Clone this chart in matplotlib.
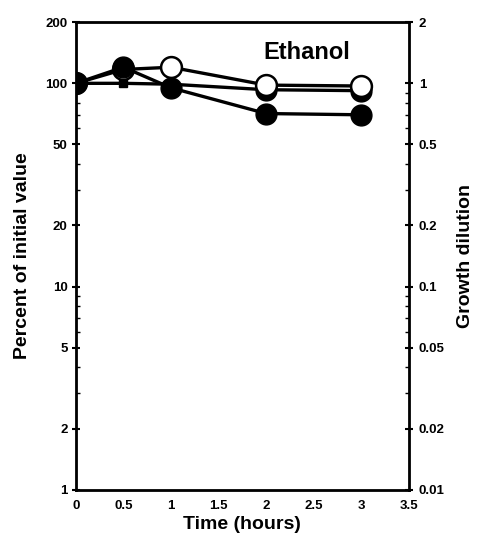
import matplotlib
matplotlib.use("Agg")
import matplotlib.pyplot as plt
from matplotlib.ticker import FixedLocator, NullFormatter, LogLocator

plt.rcParams['font.family'] = ['Liberation Sans', 'DejaVu Sans']
plt.rcParams['font.weight'] = 'bold'

# data
hours = [0, 0.5, 1, 2, 3]
open_pct = [100, 117, 120, 98, 97]
filled_pct = [100, 120, 95, 71, 70]
flat_pct = [100, 100, 99, 93, 92]

left_ticks = [1, 2, 5, 10, 20, 50, 100, 200]
left_labels = ['1', '2', '5', '10', '20', '50', '100', '200']
right_ticks = [0.01, 0.02, 0.05, 0.1, 0.2, 0.5, 1, 2]
right_labels = ['0.01', '0.02', '0.05', '0.1', '0.2', '0.5', '1', '2']
x_ticks = [0, 0.5, 1, 1.5, 2, 2.5, 3, 3.5]
x_labels = ['0', '0.5', '1', '1.5', '2', '2.5', '3', '3.5']

fig = plt.figure(figsize=(4.8, 5.4), dpi=100)
ax = fig.add_axes([0.158, 0.093, 0.694, 0.866])

# flat series: small square at 0.5, big filled circles at 2 and 3
ax.plot(hours, flat_pct, '-', color='black', lw=2.4, zorder=1)
ax.plot(hours[1:2], flat_pct[1:2], 's', color='black', ms=6, zorder=1)
ax.plot(hours[3:], flat_pct[3:], 'o', color='black', ms=15, zorder=1)
ax.plot(hours, open_pct, '-', color='black', lw=2.4, marker='o', ms=15,
        mfc='white', mec='black', mew=1.8, zorder=2)
ax.plot(hours, filled_pct, '-', color='black', lw=2.4, marker='o', ms=15, zorder=4)

ax.set_yscale('log')
ax.set_xlim(0, 3.5)
ax.set_ylim(1, 200)
ax.yaxis.set_major_locator(FixedLocator(left_ticks))
ax.set_yticklabels(left_labels)
ax.yaxis.set_minor_locator(LogLocator(base=10, subs=[3, 4, 6, 7, 8, 9]))
ax.yaxis.set_minor_formatter(NullFormatter())
ax.set_xticks(x_ticks)
ax.set_xticklabels(x_labels)

for s in ax.spines.values():
    s.set_linewidth(2)

ax.tick_params(axis='both', which='major', direction='inout', length=6, width=1.5,
               labelsize=9.5, pad=3)
ax.tick_params(axis='y', which='minor', direction='in', length=3, width=1)
ax.tick_params(axis='x', which='both', length=0, pad=7)

ax.set_xlabel('Time (hours)', fontsize=14, fontweight='bold', labelpad=3)
ax.set_ylabel('Percent of initial value', fontsize=14, fontweight='bold', labelpad=10)

ax2 = ax.twinx()
ax2.set_yscale('log')
ax2.set_ylim(0.01, 2)
ax2.yaxis.set_major_locator(FixedLocator(right_ticks))
ax2.set_yticklabels(right_labels)
ax2.yaxis.set_minor_locator(LogLocator(base=10, subs=[3, 4, 6, 7, 8, 9]))
ax2.yaxis.set_minor_formatter(NullFormatter())
ax2.tick_params(axis='y', which='major', direction='inout', length=6, width=1.5,
                labelsize=9.5, pad=4)
ax2.tick_params(axis='y', which='minor', direction='in', length=3, width=1)
ax2.set_ylabel('Growth dilution', fontsize=14, fontweight='bold', labelpad=9)

ax.text(2.43, 142, 'Ethanol', fontsize=17, fontweight='bold', ha='center', va='center')

fig.savefig('out.png', dpi=100)
